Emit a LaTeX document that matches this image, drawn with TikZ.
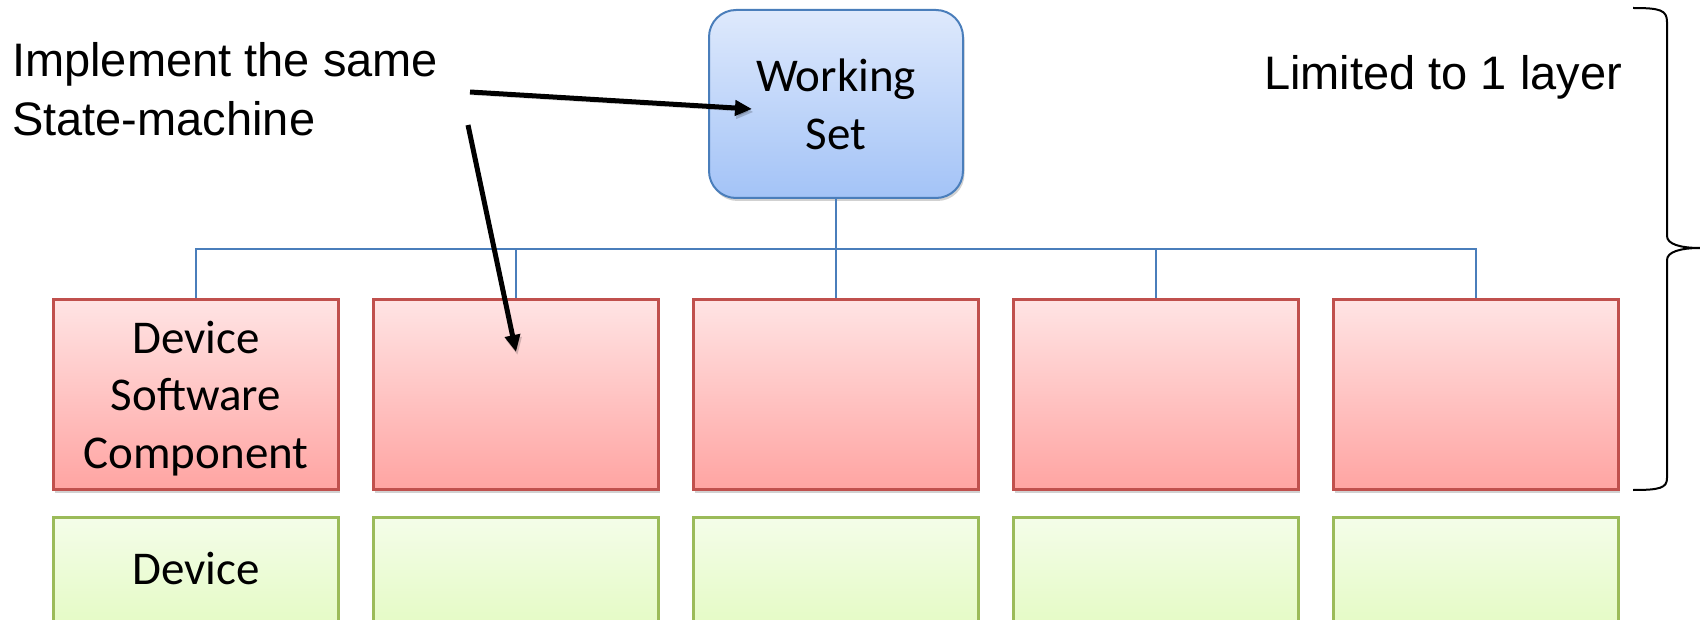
\documentclass[tikz,border=0pt]{standalone}
\usepackage{fontspec}
\setmainfont{Carlito}
\newfontfamily\arialfont{Liberation Sans}
\usetikzlibrary{arrows.meta,shadows}
\definecolor{wsborder}{HTML}{4A7EBB}
\definecolor{wstop}{HTML}{DEE9FC}
\definecolor{wsbot}{HTML}{A3C3F7}
\definecolor{redborder}{HTML}{C0504D}
\definecolor{redtop}{HTML}{FFE4E4}
\definecolor{redbot}{HTML}{FFA4A2}
\definecolor{grnborder}{HTML}{9BBB59}
\definecolor{grntop}{HTML}{F4FDE9}
\definecolor{grnbot}{HTML}{D9F9AA}
\tikzset{
  boxfont/.style={font=\fontsize{47}{57.5}\selectfont},
  wsbox/.style={draw=wsborder, line width=2pt, rounded corners=27pt,
    top color=wstop, bottom color=wsbot, minimum width=254pt, minimum height=188pt,
    inner sep=0pt, align=center, text depth=0pt, boxfont,
    drop shadow={shadow xshift=1.5pt, shadow yshift=-3pt, opacity=0.3, fill=black!60}},
  redbox/.style={draw=redborder, line width=3pt,
    top color=redtop, bottom color=redbot, minimum width=285pt, minimum height=190pt,
    inner sep=0pt, align=center, text depth=0pt, boxfont,
    drop shadow={shadow xshift=1.5pt, shadow yshift=-3pt, opacity=0.3, fill=black!60}},
  grnbox/.style={draw=grnborder, line width=3pt,
    top color=grntop, bottom color=grnbot, minimum width=285pt, minimum height=190pt,
    inner sep=0pt},
  conn/.style={draw=wsborder, line width=2pt},
  callout/.style={line width=5pt, -{Triangle[length=17pt,width=15pt]},
    preaction={draw=black, opacity=0.18, transform canvas={xshift=1.5pt, yshift=-3pt}}},
  annot/.style={font=\arialfont\fontsize{47}{59}\selectfont, inner sep=0pt, align=left},
}
\begin{document}
\begin{tikzpicture}[x=1pt,y=-1pt]
\useasboundingbox (0,0) rectangle (1700,620);
\clip (0,0) rectangle (1700,620);

% green boxes (bottom row, cut off)
\foreach \i/\cx in {1/196,2/516,3/836,4/1156,5/1476}{
  \node[grnbox] (g\i) at (\cx,612) {};
}
\node[boxfont, anchor=base, inner sep=0pt] (gtext) at (196,584) {Device};

% working set
\node[wsbox] (ws) at (836,104) {Working\\Set};

% connectors
\draw[conn] (ws.south) -- ++(0,50) coordinate (bar);

% red boxes
\node[redbox] (r1) at (196,394.5) {Device\\Software\\Component};
\node[redbox] (r2) at (516,394.5) {};
\node[redbox] (r3) at (836,394.5) {};
\node[redbox] (r4) at (1156,394.5) {};
\node[redbox] (r5) at (1476,394.5) {};
\foreach \i in {1,...,5}{
  \draw[conn] (bar) -| (r\i.north);
}

% annotations
\node[annot, anchor=base west] (impl) at (12,136) {Implement the same\\State-machine};
\node[font=\arialfont\fontsize{47}{56}\selectfont, inner sep=0pt, anchor=base west] (lim) at (1264,90) {Limited to 1 layer};

% callout arrows
\coordinate (a1s) at (470,92);
\coordinate (a1e) at (752,109);
\coordinate (a2s) at (468,125);
\coordinate (a2e) at (516,352);
\draw[callout] (a1s) -- (a1e);
\draw[callout] (a2s) -- (a2e);

% brace
\coordinate (bt) at (1633,8);
\coordinate (bm) at (1700,248);
\coordinate (bb) at (1633,490);
\draw[line width=2pt] (bt) .. controls (1660,8) and (1667,10) .. (1667,22)
  -- (1667,236) .. controls (1667,244) and (1680,248) .. (bm)
  .. controls (1680,248) and (1667,252) .. (1667,260)
  -- (1667,478) .. controls (1667,488) and (1660,490) .. (bb);
\end{tikzpicture}
\end{document}
